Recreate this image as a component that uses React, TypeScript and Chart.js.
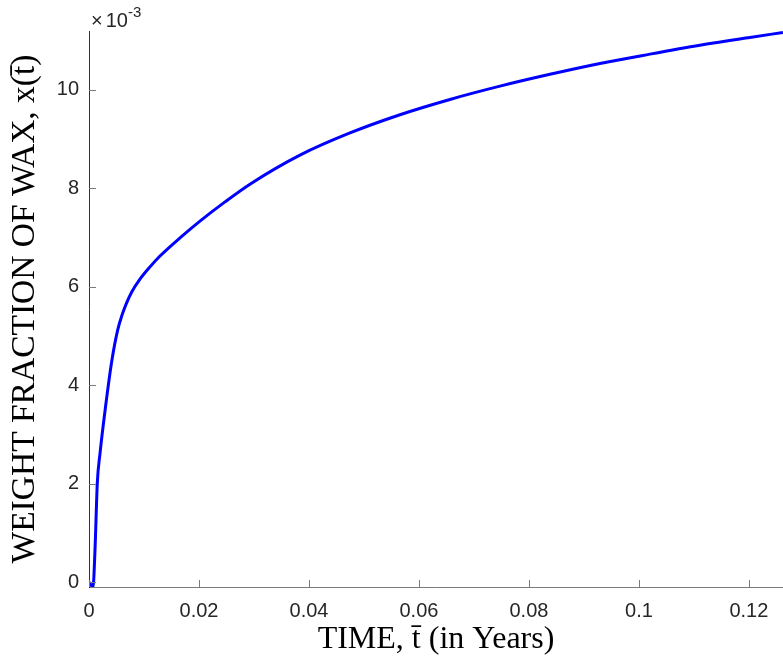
import React, { useEffect, useRef } from "react";
import { Chart, registerables } from "chart.js";

Chart.register(...registerables);

// Time in years
const timeYears: number[] = [
  0, 0.00073, 0.00109, 0.00151, 0.002, 0.00304, 0.00413, 0.00522, 0.006,
  0.00673, 0.00782, 0.00927, 0.01109, 0.01291, 0.01655, 0.02018, 0.02473,
  0.02927, 0.03836, 0.04745, 0.05655, 0.06564, 0.07473, 0.08382, 0.09291,
  0.102, 0.11109, 0.12018, 0.12618,
];
// Weight fraction of wax, in units of 1e-3
const waxFraction: number[] = [
  0, -0.1, 0.65, 2.01, 2.61, 3.59, 4.48, 5.12, 5.42, 5.64, 5.9, 6.15, 6.4,
  6.62, 6.99, 7.33, 7.72, 8.08, 8.67, 9.12, 9.49, 9.8, 10.07, 10.31, 10.53,
  10.72, 10.9, 11.06, 11.16,
];

const xTickValues: number[] = [0, 0.02, 0.04, 0.06, 0.08, 0.1, 0.12];
const xTickLabels: string[] = ["0", "0.02", "0.04", "0.06", "0.08", "0.1", "0.12"];
const yTickValues: number[] = [0, 2, 4, 6, 8, 10];
const yTickLabels: string[] = ["0", "2", "4", "6", "8", "10"];

const xTitle = "TIME, t\u0304 (in Years)";
const yTitle = "WEIGHT FRACTION OF WAX, x(t\u0304)";
const exponentPower = "-3";

const X_MIN = 0;
const X_MAX = 0.1262;
const Y_MIN = -0.1;
const Y_MAX = 11.19;

const tickFont = '"Liberation Sans", Arial, Helvetica, sans-serif';
const serifFont = '"Liberation Serif", "Times New Roman", serif';

const innerTicksPlugin = {
  id: "innerTicks",
  afterDraw(chart: any) {
    const ctx = chart.ctx;
    const xs = chart.scales.x;
    const ys = chart.scales.y;
    const area = chart.chartArea;
    ctx.save();
    ctx.lineWidth = 1;
    ctx.strokeStyle = "#7a7a7a";
    xs.ticks.forEach((t: any) => {
      const px = Math.round(xs.getPixelForValue(t.value)) + 0.5;
      ctx.beginPath();
      ctx.moveTo(px, area.bottom);
      ctx.lineTo(px, area.bottom - 7);
      ctx.stroke();
    });
    ys.ticks.forEach((t: any) => {
      const py = Math.round(ys.getPixelForValue(t.value)) + 0.5;
      ctx.beginPath();
      ctx.moveTo(area.left, py);
      ctx.lineTo(area.left + 7, py);
      ctx.stroke();
    });
    // exponent label
    ctx.fillStyle = "#262626";
    ctx.textBaseline = "alphabetic";
    ctx.textAlign = "left";
    ctx.font = `20px ${tickFont}`;
    const baseX = area.left + 2;
    const baseY = area.top - 4;
    ctx.fillText("\u00d7", baseX, baseY);
    const wx = ctx.measureText("\u00d7").width;
    ctx.fillText("10", baseX + wx + 3, baseY);
    const w10 = ctx.measureText("10").width;
    ctx.font = `15px ${tickFont}`;
    ctx.fillText(exponentPower, baseX + wx + 3 + w10, baseY - 10);
    ctx.restore();
  },
};

export default function App() {
  const canvasRef = useRef<HTMLCanvasElement | null>(null);

  useEffect(() => {
    if (!canvasRef.current) return;
    const points = timeYears.map((x, i) => ({ x, y: waxFraction[i] }));
    const chart = new Chart(canvasRef.current, {
      type: "line",
      data: {
        datasets: [
          {
            data: points,
            borderColor: "#0000ff",
            borderWidth: 3,
            pointRadius: 0,
            fill: false,
            cubicInterpolationMode: "monotone",
          },
        ],
      },
      options: {
        animation: false,
        responsive: false,
        devicePixelRatio: 1,
        layout: { padding: { top: 31, right: 0, left: 0, bottom: 0 } },
        plugins: {
          legend: { display: false },
          tooltip: { enabled: false },
        },
        scales: {
          x: {
            type: "linear",
            min: X_MIN,
            max: X_MAX,
            afterBuildTicks: (scale: any) => {
              scale.ticks = xTickValues.map((v) => ({ value: v }));
            },
            afterFit: (scale: any) => {
              scale.height = 74;
            },
            grid: { display: false, drawTicks: false },
            border: { display: true, color: "#7a7a7a", width: 1 },
            ticks: {
              autoSkip: false,
              maxRotation: 0,
              padding: 12,
              color: "#262626",
              font: { family: tickFont, size: 20 },
              callback: (value: any) => {
                const i = xTickValues.findIndex((v) => Math.abs(v - Number(value)) < 1e-9);
                return i >= 0 ? xTickLabels[i] : "";
              },
            },
            title: {
              display: true,
              text: xTitle,
              color: "#000000",
              font: { family: serifFont, size: 32 },
              padding: { top: 0, bottom: 2 },
            },
          },
          y: {
            type: "linear",
            min: Y_MIN,
            max: Y_MAX,
            afterBuildTicks: (scale: any) => {
              scale.ticks = yTickValues.map((v) => ({ value: v }));
            },
            afterFit: (scale: any) => {
              scale.width = 89;
            },
            grid: { display: false, drawTicks: false },
            border: { display: true, color: "#333333", width: 1 },
            ticks: {
              autoSkip: false,
              padding: 10,
              color: "#262626",
              font: { family: tickFont, size: 20 },
              callback: (value: any) => {
                const i = yTickValues.findIndex((v) => Math.abs(v - Number(value)) < 1e-9);
                return i >= 0 ? yTickLabels[i] : "";
              },
            },
            title: {
              display: true,
              text: yTitle,
              color: "#000000",
              font: { family: serifFont, size: 33.5 },
              padding: { top: 5, bottom: 0 },
            },
          },
        },
      },
      plugins: [innerTicksPlugin],
    } as any);
    return () => chart.destroy();
  }, []);

  return (
    <div
      style={{
        position: "fixed",
        left: 0,
        top: 0,
        width: 783,
        height: 661,
        background: "#ffffff",
      }}
    >
      <canvas ref={canvasRef} width={783} height={661} />
    </div>
  );
}
